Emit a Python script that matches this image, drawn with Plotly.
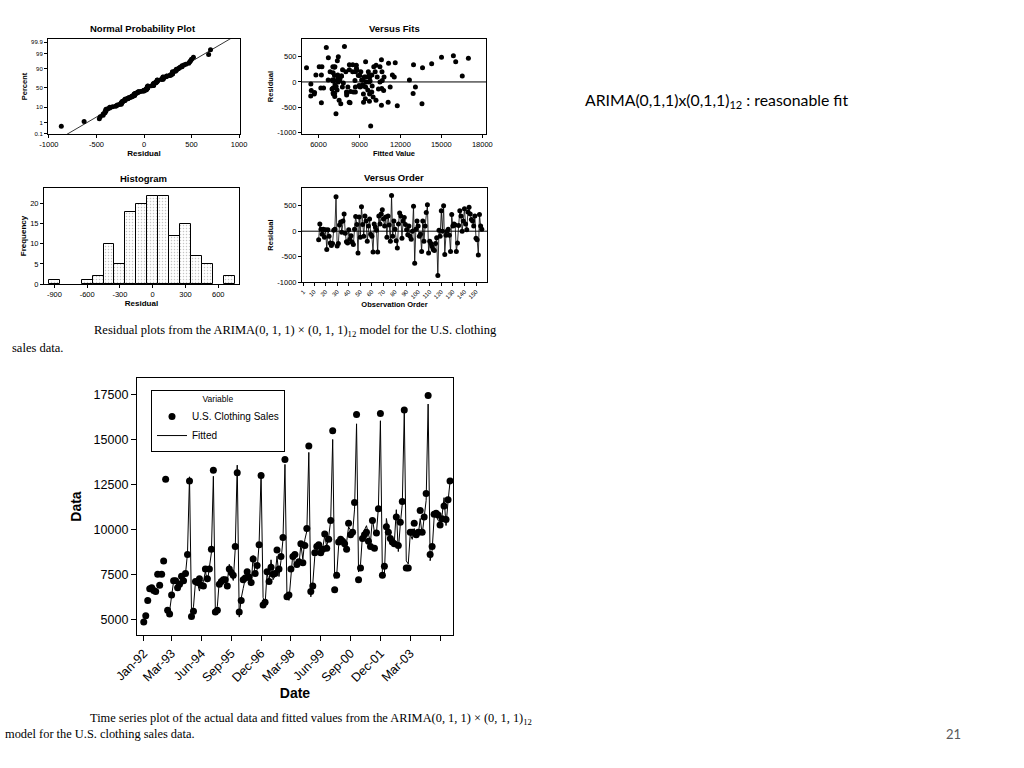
import plotly.graph_objects as go
from statistics import NormalDist, mean, stdev

W, H = 1024, 768
SANS = "Liberation Sans, Arial, sans-serif"
SERIF = "Liberation Serif, Times New Roman, serif"

# ---------------- data ----------------
sales_1992 = [4850, 5200, 6050, 6700, 6750, 6600, 6550, 7500, 6900, 7500, 8250, 12800]
sales_1993 = [5500, 5300, 6350, 7150, 7150, 6750, 6950, 7400, 7150, 7550, 8600, 12700]
sales_1994 = [5150, 5450, 7100, 7050, 7250, 6900, 6850, 7800, 7250, 7800, 8900, 13300]
sales_1995 = [5400, 5500, 6950, 7100, 7200, 7200, 6850, 7800, 7600, 7450, 9050, 13150]
sales_1996 = [5400, 6050, 7200, 7300, 7650, 7350, 7050, 8350, 7550, 8000, 9150, 13000]
sales_1997 = [5800, 5950, 7650, 7100, 7900, 7500, 7550, 8850, 7800, 8500, 9550, 13900]
sales_1998 = [6250, 6350, 7800, 8500, 8600, 8050, 8200, 9200, 8150, 9100, 10050, 14650]
sales_1999 = [6550, 6850, 8700, 9050, 9150, 8700, 8900, 9750, 8950, 9450, 10500, 15500]
sales_2000 = [6650, 7450, 9300, 9450, 9350, 9200, 8900, 10350, 9700, 9850, 11500, 16400]
sales_2001 = [7200, 7850, 9500, 9700, 9850, 9350, 9050, 10500, 8950, 9800, 11150, 16450]
sales_2002 = [7450, 7950, 10150, 9850, 9500, 9300, 9200, 10700, 9100, 10400, 11550, 16650]
sales_2003 = [7850, 7850, 9850, 9850, 10350, 9700, 9850, 11050, 9850, 10700, 12000, 17450]
sales_2004 = [8600, 9050, 10850, 10900, 10800, 10250, 10600, 11300, 10550, 11650, 12700]

# residuals, observations 14 .. 155
resid_1993 = [-170, 140, 40, -60, 40, -120, 30, -360, 30, -100, -230]
resid_1994 = [-280, -240, 20, 40, 680, -290, -240, 120, 180, -20, 200, 340]
resid_1995 = [-40, -210, -230, 30, -160, -90, -220, -260, 40, 290, 130, -430]
resid_1996 = [280, -120, 480, 130, -100, 300, 200, -200, 100, 240, -60, -100]
resid_1997 = [-410, 140, 80, 20, -410, 300, 140, 340, 420, 240, 100, 280]
resid_1998 = [-120, 300, 120, -200, 700, -100, 200, 40, -190, -330, 140, 360]
resid_1999 = [300, -140, 200, 270, 130, 30, -70, 100, -100, -160, 0, 490]
resid_2000 = [-630, 40, 200, 100, -100, -60, -400, 200, -200, 100, 370, 520]
resid_2001 = [-430, -200, -240, -300, -360, -380, -240, -130, -870, 20, -100, 400]
resid_2002 = [0, 500, -460, -80, 0, 40, -80, -400, 330, 100, 140, 120]
resid_2003 = [-400, -230, 110, 400, 300, 0, 200, 440, 140, 30, 380, 470]
resid_2004 = [340, 230, 200, 100, 300, -140, -170, -470, 330, 100, 40]
first_resid_obs = 14

ts_tick_obs = [1, 15, 30, 45, 60, 75, 90, 105, 120, 135]
ts_tick_labels = ["Jan-92", "Mar-93", "Jun-94", "Sep-95", "Dec-96", "Mar-98",
                  "Jun-99", "Sep-00", "Dec-01", "Mar-03"]
ts_unlabeled_tick = [150]
ts_y_ticks = [5000, 7500, 10000, 12500, 15000, 17500]
fits_x_ticks = [6000, 9000, 12000, 15000, 18000]
resid_ticks = [-1000, -500, 0, 500]
np_x_ticks = [-1000, -500, 0, 500, 1000]
hist_x_ticks = [-900, -600, -300, 0, 300, 600]
hist_y_ticks = [0, 5, 10, 15, 20]
order_ticks = [1, 10, 20, 30, 40, 50, 60, 70, 80, 90, 100, 110, 120, 130, 140, 150]
pct_ticks = [0.1, 1, 10, 50, 90, 99, 99.9]
pct_labels = ["0.1", "1", "10", "50", "90", "99", "99.9"]

# ---------------- derived series ----------------
sales = (sales_1992 + sales_1993 + sales_1994 + sales_1995 + sales_1996 + sales_1997 +
         sales_1998 + sales_1999 + sales_2000 + sales_2001 + sales_2002 + sales_2003 + sales_2004)
obs = list(range(1, len(sales) + 1))
resid = (resid_1993 + resid_1994 + resid_1995 + resid_1996 + resid_1997 + resid_1998 +
         resid_1999 + resid_2000 + resid_2001 + resid_2002 + resid_2003 + resid_2004)
resid_obs = list(range(first_resid_obs, first_resid_obs + len(resid)))
fitted = [sales[o - 1] - r for o, r in zip(resid_obs, resid)]

nd = NormalDist()
n = len(resid)
sorted_res = sorted(resid)
z_pos = [nd.inv_cdf((i - 0.3) / (n + 0.4)) for i in range(1, n + 1)]
mu, sd = mean(resid), stdev(resid)
z_line = [-3.3, 3.5]
x_line = [mu + sd * z for z in z_line]
pct_z = [nd.inv_cdf(p / 100) for p in pct_ticks]

# ---------------- figure ----------------
fig = go.Figure()
mk = dict(color="black", size=5)

fig.add_trace(go.Scatter(x=sorted_res, y=z_pos, mode="markers", marker=mk,
                         xaxis="x", yaxis="y", showlegend=False))
fig.add_trace(go.Scatter(x=x_line, y=z_line, mode="lines", line=dict(color="black", width=0.8),
                         xaxis="x", yaxis="y", showlegend=False))

fig.add_trace(go.Scatter(x=fitted, y=resid, mode="markers", marker=mk,
                         xaxis="x2", yaxis="y2", showlegend=False))

fig.add_trace(go.Histogram(x=resid, xbins=dict(start=-950, end=750, size=100),
                           marker=dict(color="white", line=dict(color="black", width=1),
                                       pattern=dict(shape=".", size=3, solidity=0.2,
                                                    fgcolor="#8a8a8a", bgcolor="white")),
                           xaxis="x3", yaxis="y3", showlegend=False))

fig.add_trace(go.Scatter(x=resid_obs, y=resid, mode="lines+markers",
                         marker=dict(color="black", size=5), line=dict(color="black", width=0.8),
                         xaxis="x4", yaxis="y4", showlegend=False))

fig.add_trace(go.Scatter(x=obs, y=sales, mode="markers", name="U.S. Clothing Sales",
                         marker=dict(color="black", size=7), xaxis="x5", yaxis="y5"))
fig.add_trace(go.Scatter(x=resid_obs, y=fitted, mode="lines", name="Fitted",
                         line=dict(color="black", width=1), xaxis="x5", yaxis="y5"))


def dx(a, b):
    return [a / W, b / W]


def dy(top, bottom):
    return [1 - bottom / H, 1 - top / H]


def labels(vals):
    return [str(v) for v in vals]


small = dict(showline=True, linecolor="black", linewidth=1, mirror=True, ticks="outside",
             ticklen=3, tickcolor="black", showgrid=False, zeroline=False, automargin=False,
             tickfont=dict(family=SANS, size=7.5, color="black"))


def ttl(t, s=8, standoff=2):
    return dict(text="<b>" + t + "</b>", font=dict(family=SANS, size=s, color="black"),
                standoff=standoff)


layout = dict(
    width=W, height=H, margin=dict(l=0, r=0, t=0, b=0),
    paper_bgcolor="white", plot_bgcolor="white", bargap=0,
    xaxis=dict(small, domain=dx(48, 240), anchor="y", range=[-1010, 1010],
               tickvals=np_x_ticks, ticktext=labels(np_x_ticks), title=ttl("Residual")),
    yaxis=dict(small, domain=dy(39, 134), anchor="x", range=[-3.1, 3.3],
               tickvals=pct_z, ticktext=pct_labels, tickfont=dict(family=SANS, size=6, color="black"),
               title=ttl("Percent", 7.5)),
    xaxis2=dict(small, domain=dx(302, 486), anchor="y2", range=[4790, 18270],
                tickvals=fits_x_ticks, ticktext=labels(fits_x_ticks), title=ttl("Fitted Value", 7.5)),
    yaxis2=dict(small, domain=dy(39, 134), anchor="x2", range=[-1030, 850],
                tickvals=resid_ticks, ticktext=labels(resid_ticks), title=ttl("Residual", 7.5)),
    xaxis3=dict(small, domain=dx(44, 239), anchor="y3", range=[-995, 790],
                tickvals=hist_x_ticks, ticktext=labels(hist_x_ticks), title=ttl("Residual")),
    yaxis3=dict(small, domain=dy(188, 284), anchor="x3", range=[0, 23.9],
                tickvals=hist_y_ticks, ticktext=labels(hist_y_ticks), title=ttl("Frequency")),
    xaxis4=dict(small, domain=dx(302, 487), anchor="y4", range=[-0.4, 159.5],
                tickvals=order_ticks, ticktext=labels(order_ticks), tickangle=-45,
                tickfont=dict(family=SANS, size=6, color="black"),
                title=ttl("Observation Order", 7.5)),
    yaxis4=dict(small, domain=dy(188, 282), anchor="x4", range=[-1000, 850],
                tickvals=resid_ticks, ticktext=labels(resid_ticks), title=ttl("Residual", 7.5)),
    xaxis5=dict(small, domain=dx(137, 453), anchor="y5", range=[-2.4, 156.5], linewidth=1.3,
                tickvals=ts_tick_obs, ticktext=ts_tick_labels, tickangle=-45, ticklen=5,
                minor=dict(tickvals=ts_unlabeled_tick, ticks="outside", ticklen=5, tickcolor="black"),
                tickfont=dict(family=SANS, size=12.5, color="black"), title=ttl("Date", 14, 4)),
    yaxis5=dict(small, domain=dy(378, 635), anchor="x5", range=[4125, 18430], linewidth=1.3,
                tickvals=ts_y_ticks, ticktext=labels(ts_y_ticks), ticklen=5,
                tickfont=dict(family=SANS, size=12.5, color="black"), title=ttl("Data", 14, 8)),
    legend=dict(x=151 / W, y=1 - 390 / H, xanchor="left", yanchor="top",
                bordercolor="black", borderwidth=1, bgcolor="white",
                font=dict(family=SANS, size=10, color="black"),
                title=dict(text="Variable", side="top center", font=dict(family=SANS, size=8.5, color="black")),
                tracegroupgap=0, itemwidth=30),
    shapes=[
        dict(type="line", xref="x2 domain", yref="y2", x0=0, x1=1, y0=0, y1=0,
             line=dict(color="black", width=1)),
        dict(type="line", xref="x4 domain", yref="y4", x0=0, x1=1, y0=0, y1=0,
             line=dict(color="black", width=1)),
    ],
)
fig.update_layout(**layout)


def ann(text, x, y, size, family=SANS, xanchor="center", color="black"):
    fig.add_annotation(text=text, x=x / W, y=1 - y / H, xref="paper", yref="paper",
                       showarrow=False, xanchor=xanchor, yanchor="middle",
                       font=dict(family=family, size=size, color=color))


ann("<b>Normal Probability Plot</b>", 143, 29, 9.5)
ann("<b>Versus Fits</b>", 394, 29, 9.5)
ann("<b>Histogram</b>", 143, 178, 9.5)
ann("<b>Versus Order</b>", 394, 177, 9.5)

ann("ARIMA(0,1,1)x(0,1,1)<sub>12</sub> : reasonable fit", 583, 101, 15.8, "Lato, Carlito, sans-serif", "left")

ann("Residual plots from the ARIMA(0, 1, 1) × (0, 1, 1)<sub>12</sub> model for the U.S. clothing",
    92, 331, 12.5, SERIF, "left")
ann("sales data.", 10, 348, 12.5, SERIF, "left")
ann("Time series plot of the actual data and fitted values from the ARIMA(0, 1, 1) × (0, 1, 1)<sub>12</sub>",
    88, 719, 12.4, SERIF, "left")
ann("model for the U.S. clothing sales data.", 3, 734, 12.4, SERIF, "left")
ann("21", 953, 734, 13, "Lato, Carlito, sans-serif", "center", "#595959")

fig.write_html("out.html", config={"displayModeBar": False},
               post_script="document.body.style.margin='0px';document.body.style.overflow='hidden';")
